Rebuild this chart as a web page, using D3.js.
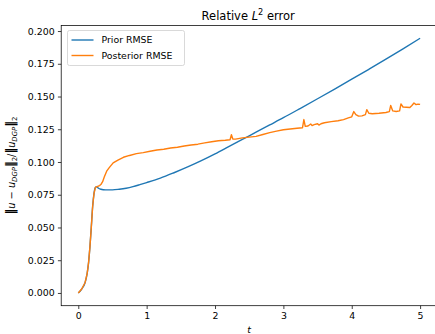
<!DOCTYPE html>
<html><head><meta charset="utf-8">
<script src="https://cdn.jsdelivr.net/npm/d3@7/dist/d3.min.js"></script>
<style>body{margin:0;background:#fff;}svg{display:block;font-family:"DejaVu Sans",sans-serif;}</style>
</head><body>
<script>
const tPrior = [0,0.05,0.1,0.13,0.15,0.17,0.19,0.21,0.23,0.25,0.27,0.29,0.33,0.4,0.5,0.6,0.7,0.8,0.9,1.0,1.2,1.4,1.6,1.8,2.0,2.2,2.4,2.6,2.8,3.0,3.25,3.5,3.75,4.0,4.25,4.5,4.75,5.0];
const priorRMSE = [0,0.003,0.008,0.015,0.023,0.035,0.05,0.066,0.076,0.0805,0.0812,0.0802,0.0792,0.0787,0.0787,0.0792,0.0800,0.0812,0.0827,0.0843,0.0877,0.0918,0.0962,0.1010,0.1062,0.1117,0.1172,0.1228,0.1283,0.1338,0.1410,0.1483,0.1557,0.1632,0.1708,0.1785,0.1864,0.1945];
const tPost = [0,0.05,0.1,0.13,0.15,0.17,0.19,0.21,0.23,0.25,0.27,0.29,0.31,0.33,0.356,0.38,0.415,0.45,0.51,0.58,0.66,0.75,0.85,0.95,1.05,1.15,1.25,1.35,1.45,1.55,1.65,1.75,1.85,1.95,2.05,2.15,2.22,2.24,2.26,2.3,2.4,2.5,2.6,2.7,2.8,2.9,3.0,3.1,3.2,3.28,3.3,3.32,3.36,3.4,3.42,3.45,3.5,3.52,3.55,3.6,3.7,3.8,3.88,3.95,4.0,4.03,4.06,4.1,4.15,4.2,4.22,4.25,4.3,4.4,4.5,4.55,4.57,4.6,4.65,4.7,4.72,4.75,4.8,4.85,4.88,4.91,4.94,4.97,5.0];
const postRMSE = [0,0.003,0.008,0.015,0.023,0.035,0.05,0.066,0.076,0.0805,0.0812,0.0815,0.082,0.0828,0.085,0.0885,0.093,0.0955,0.0993,0.1015,0.1036,0.1050,0.1064,0.1072,0.1082,0.1092,0.1097,0.1107,0.1113,0.1122,0.1130,0.1136,0.1146,0.1155,0.1162,0.1166,0.1170,0.1208,0.1176,0.1175,0.1184,0.1190,0.1196,0.1210,0.1224,0.1236,0.1246,0.1252,0.1258,0.1262,0.1324,0.1272,0.1275,0.1290,0.1278,0.1285,0.1292,0.1282,0.1292,0.1300,0.1308,0.1315,0.1324,0.1337,0.1345,0.1385,0.1362,0.1350,0.1352,0.1362,0.1400,0.1372,0.1368,0.1372,0.1378,0.1385,0.1432,0.1390,0.1386,0.1390,0.1444,0.1420,0.1418,0.1416,0.1432,0.1450,0.1438,0.1442,0.1440];
const xTicks = [0,1,2,3,4,5];
const yTicks = [0,0.025,0.05,0.075,0.1,0.125,0.15,0.175,0.2];
const seriesNames = ["Prior RMSE","Posterior RMSE"];
const colors = ["#1f77b4","#ff7f0e"];

const W = 435, H = 334;
const L = 61.2, R = 437.2, T = 25.5, B = 305.7;
const svg = d3.select("body").append("svg").attr("width", W).attr("height", H);

const x = d3.scaleLinear().domain([-0.25, 5.25]).range([L, R]);
const ymax = 0.1945, ymin = 0;
const pad = (ymax - ymin) * 0.05;
const y = d3.scaleLinear().domain([ymin - pad, ymax + pad]).range([B, T]);

const fs = 9.4;
const xAxis = svg.append("g").attr("transform", `translate(0,${B})`)
  .call(d3.axisBottom(x).tickValues(xTicks).tickFormat(d3.format("d")).tickSizeOuter(0).tickSize(3.3).tickPadding(3.3));
const yAxis = svg.append("g").attr("transform", `translate(${L},0)`)
  .call(d3.axisLeft(y).tickValues(yTicks).tickFormat(d3.format(".3f")).tickSizeOuter(0).tickSize(3.3).tickPadding(3.3));
[xAxis, yAxis].forEach(g => {
  g.select(".domain").remove();
  g.selectAll(".tick line").attr("stroke", "#000").attr("stroke-width", 0.75);
  g.selectAll(".tick text").attr("font-family", "DejaVu Sans").attr("font-size", fs).attr("fill", "#000");
});

const line = d3.line().x(d => x(d[0])).y(d => y(d[1]));
const priorData = tPrior.map((t, i) => [t, priorRMSE[i]]);
const postData = tPost.map((t, i) => [t, postRMSE[i]]);
const priorLine = d3.line().curve(d3.curveMonotoneX).x(d => x(d[0])).y(d => y(d[1]));
svg.append("path").datum(priorData).attr("d", priorLine).attr("fill", "none")
  .attr("stroke", colors[0]).attr("stroke-width", 1.4).attr("stroke-linejoin", "round");
svg.append("path").datum(postData).attr("d", line).attr("fill", "none")
  .attr("stroke", colors[1]).attr("stroke-width", 1.4).attr("stroke-linejoin", "round");

svg.append("rect").attr("x", L).attr("y", T).attr("width", R - L).attr("height", B - T)
  .attr("fill", "none").attr("stroke", "#000").attr("stroke-width", 0.75);

const title = svg.append("text").attr("x", (L + R) / 2 - 1).attr("y", 20).attr("text-anchor", "middle")
  .attr("font-size", 11.5).attr("fill", "#000");
title.append("tspan").text("Relative ");
title.append("tspan").attr("font-style", "italic").text("L");
title.append("tspan").attr("font-size", 8.2).attr("dy", -4.6).text("2");
title.append("tspan").attr("dy", 4.6).text(" error");

svg.append("text").attr("x", (L + R) / 2).attr("y", 333).attr("text-anchor", "middle")
  .attr("font-size", fs).attr("font-style", "italic").attr("fill", "#000").text("t");

const yl = svg.append("text").attr("transform", `translate(15,${(T + B) / 2}) rotate(-90)`)
  .attr("text-anchor", "middle").attr("font-size", 9.8).attr("fill", "#000");
const sub = 6.9, dd = 2.3, bar = 11.5;
yl.append("tspan").attr("font-size", bar).attr("font-weight", "bold").text("\u2016");
yl.append("tspan").attr("font-style", "italic").text("u");
yl.append("tspan").text(" \u2212 ");
yl.append("tspan").attr("font-style", "italic").text("u");
yl.append("tspan").attr("font-style", "italic").attr("font-size", sub).attr("dy", dd).text("DGP");
yl.append("tspan").attr("dy", -dd).attr("font-size", bar).attr("font-weight", "bold").text("\u2016");
yl.append("tspan").attr("font-size", sub).attr("dy", dd).text("2");
yl.append("tspan").attr("dy", -dd).text("/");
yl.append("tspan").attr("font-size", bar).attr("font-weight", "bold").text("\u2016");
yl.append("tspan").attr("font-style", "italic").text("u");
yl.append("tspan").attr("font-style", "italic").attr("font-size", sub).attr("dy", dd).text("DGP");
yl.append("tspan").attr("dy", -dd).attr("font-size", bar).attr("font-weight", "bold").text("\u2016");
yl.append("tspan").attr("font-size", sub).attr("dy", dd).text("2");

const lg = svg.append("g");
lg.append("rect").attr("x", 67.5).attr("y", 30.5).attr("width", 117).attr("height", 35).attr("rx", 2)
  .attr("fill", "#fff").attr("fill-opacity", 0.8).attr("stroke", "#ccc").attr("stroke-width", 0.75);
seriesNames.forEach((n, i) => {
  const yy = 40 + i * 15.5;
  lg.append("line").attr("x1", 71.5).attr("x2", 93.5).attr("y1", yy).attr("y2", yy)
    .attr("stroke", colors[i]).attr("stroke-width", 1.4);
  lg.append("text").attr("x", 101.5).attr("y", yy + 3.4).attr("font-size", fs).attr("fill", "#000").text(n);
});
</script>
</body></html>
